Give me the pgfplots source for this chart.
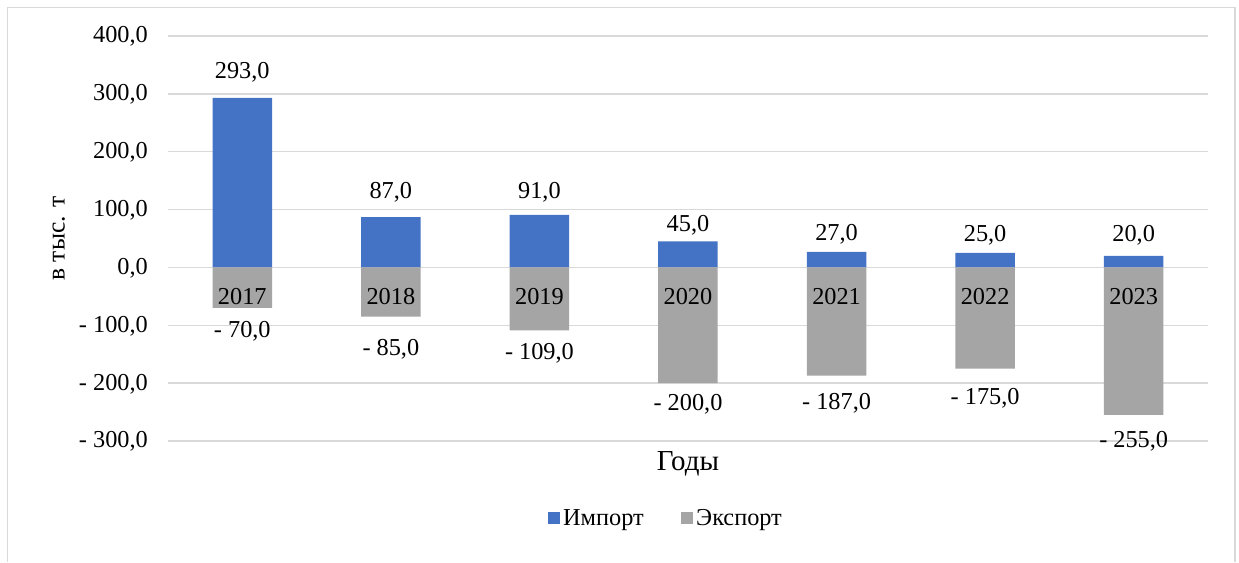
\documentclass[border=0pt]{standalone}
\usepackage{fontspec}
\setmainfont{Liberation Serif}
\usepackage{pgfplots}
\usepackage{pgfplotstable}
\pgfplotsset{compat=1.18}
\definecolor{impc}{HTML}{4472C4}
\definecolor{expc}{HTML}{A5A5A5}
\definecolor{gridc}{HTML}{D9D9D9}
\pgfplotstableread{
x imp exp eabs ioff eoff
0 293 -70 70 19.2 29.3
1 87 -85 85 18.4 38.6
2 91 -109 109 16 28.7
3 45 -200 200 10 27.6
4 27 -187 187 11.4 33.7
5 25 -175 175 11.3 35.4
6 20 -255 255 14.7 32.7
}\datatab
\newcommand{\fs}{\fontsize{24.3bp}{29bp}\selectfont}
\newcommand{\fl}{\fontsize{29bp}{34bp}\selectfont}
\newcommand{\fy}{\fontsize{25.5bp}{30bp}\selectfont}
\begin{document}
\begin{tikzpicture}
\begin{axis}[
  set layers=standard,
  at={(168bp,121bp)}, anchor=south west,
  scale only axis, width=1040bp, height=405bp,
  xmin=-0.5, xmax=6.5, ymin=-300, ymax=400,
  enlargelimits=false,
  axis line style={draw=none},
  tick style={draw=none},
  ymajorgrids, grid style={gridc, line width=1.3bp},
  ytick={-300,-200,-100,0,100,200,300,400},
  yticklabels={{- 300,0},{- 200,0},{- 100,0},{0,0},{100,0},{200,0},{300,0},{400,0}},
  yticklabel style={font=\fs, anchor=base east, inner sep=0pt, xshift=-20bp, yshift=-7bp},
  xtick={0,1,2,3,4,5,6},
  xticklabels={2017,2018,2019,2020,2021,2022,2023},
  xticklabel style={font=\fs, anchor=base, yshift=136.5bp, /pgfplots/on layer=axis foreground},
  xlabel={Годы},
  xlabel style={font=\fl, at={(axis description cs:0.5,-0.07333)}, anchor=base},
  ylabel={в тыс. т},
  ylabel style={font=\fy, at={(axis description cs:-0.09933,0.5)}, anchor=base},
  /pgf/number format/fixed,
  /pgf/number format/fixed zerofill,
  /pgf/number format/precision=1,
  /pgf/number format/use comma,
  /pgf/number format/1000 sep={},
  /pgf/number format/assume math mode=true,
  legend columns=2,
  legend style={at={(axis description cs:0.36538,-0.19012)}, anchor=west, draw=none,
    inner sep=0pt, font=\fs, nodes={inner xsep=3.5bp, inner ysep=0bp},
    /tikz/every even column/.append style={column sep=34bp}},
]
\addplot[ybar, bar width=59.5bp, bar shift=0pt, fill=impc, draw=none,
  legend image code/.code={\fill[impc] (0bp,-5.75bp) rectangle (11.5bp,5.75bp);},
  visualization depends on={\thisrow{ioff} \as \ioff},
  nodes near coords={\pgfmathprintnumber{\pgfplotspointmeta}},
  every node near coord/.append style={font=\fs, anchor=base, yshift=\ioff*1bp}]
  table[x=x, y=imp] {\datatab};
\addplot[ybar, bar width=59.5bp, bar shift=0pt, fill=expc, draw=none,
  legend image code/.code={\fill[expc] (0bp,-5.75bp) rectangle (11.5bp,5.75bp);},
  point meta=explicit,
  visualization depends on={\thisrow{eoff} \as \eoff},
  nodes near coords={- \pgfmathprintnumber{\pgfplotspointmeta}},
  every node near coord/.append style={font=\fs, anchor=base, yshift=-\eoff*1bp}]
  table[x=x, y=exp, meta=eabs] {\datatab};
\legend{Импорт, Экспорт}
\end{axis}
\draw[gridc, line width=1.5bp] (7.5bp,0bp) -- (7.5bp,554.5bp) -- (1235bp,554.5bp) -- (1235bp,0bp);
\path (0bp,0bp) rectangle (1239bp,562bp);
\end{tikzpicture}
\end{document}
